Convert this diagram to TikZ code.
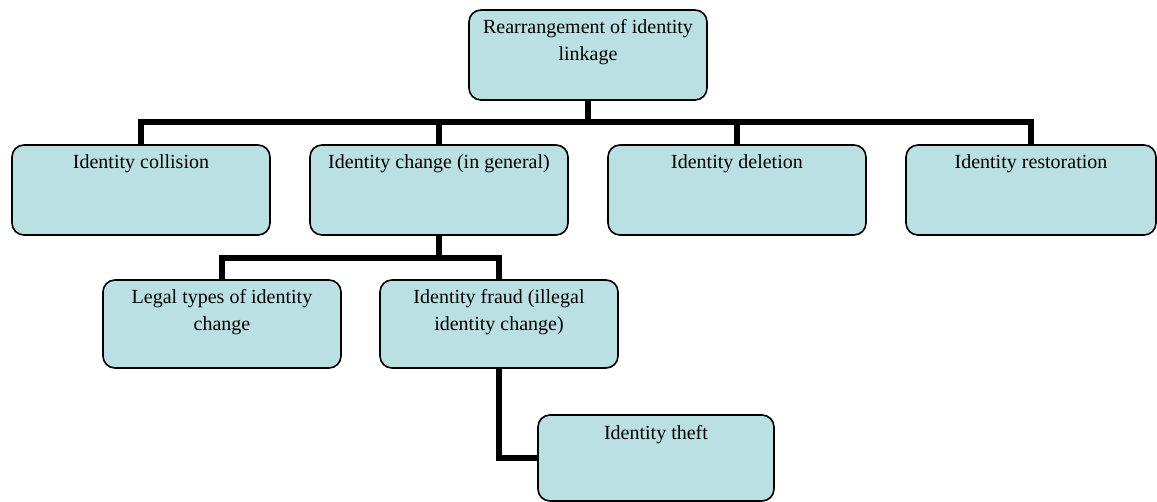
\documentclass[tikz,border=0pt]{standalone}
\usepackage{fontspec}
\setmainfont{Liberation Serif}
\definecolor{boxfill}{RGB}{187,224,227}
% box content: top-aligned, centred text inside a fixed-size frame
\newcommand{\boxcontent}[3]{\parbox[t][#2][t]{#1}{\centering\fontsize{15}{20}\selectfont\rule{0pt}{18pt}#3}}
\tikzset{
  orgbox/.style={draw=black, line width=1.2pt, fill=boxfill, rounded corners=9pt,
                 inner sep=0pt, outer sep=0pt, anchor=north west},
  conn/.style={draw=black, line width=4pt, line join=miter}
}
\begin{document}
\begin{tikzpicture}[x=0.75pt, y=-0.75pt]
\useasboundingbox (0,0) rectangle (1157,502);

% level 0
\node[orgbox] (top) at (469,10) {\boxcontent{178.5pt}{67.5pt}{Rearrangement of identity\\linkage}};

% level 1
\node[orgbox] (coll) at (12,145)  {\boxcontent{193.5pt}{67.5pt}{Identity collision}};
\node[orgbox] (chg)  at (310,145) {\boxcontent{193.5pt}{67.5pt}{Identity change (in general)}};
\node[orgbox] (del)  at (608,145) {\boxcontent{193.5pt}{67.5pt}{Identity deletion}};
\node[orgbox] (rest) at (906,145) {\boxcontent{187.5pt}{67.5pt}{Identity restoration}};

% level 2
\node[orgbox] (legal) at (103,280) {\boxcontent{178.5pt}{66pt}{Legal types of identity\\change}};
\node[orgbox] (fraud) at (380,280) {\boxcontent{178.5pt}{66pt}{Identity fraud (illegal\\identity change)}};

% level 3
\node[orgbox] (theft) at (538,415) {\boxcontent{177pt}{64.5pt}{Identity theft}};

% bus lines
\coordinate (busA) at (588,122);
\coordinate (busB) at (438,258);

\draw[conn] (top.south) -- (top.south |- busA);
\draw[conn] (coll.north) -- (coll.north |- busA) -- (rest.north |- busA) -- (rest.north);
\draw[conn] (chg.north) -- (chg.north |- busA);
\draw[conn] (del.north) -- (del.north |- busA);

\draw[conn] (chg.south) -- (chg.south |- busB);
\draw[conn] (legal.north) -- (legal.north |- busB) -- (fraud.north |- busB) -- (fraud.north);

\draw[conn] (fraud.south) |- (theft.west);
\end{tikzpicture}
\end{document}
